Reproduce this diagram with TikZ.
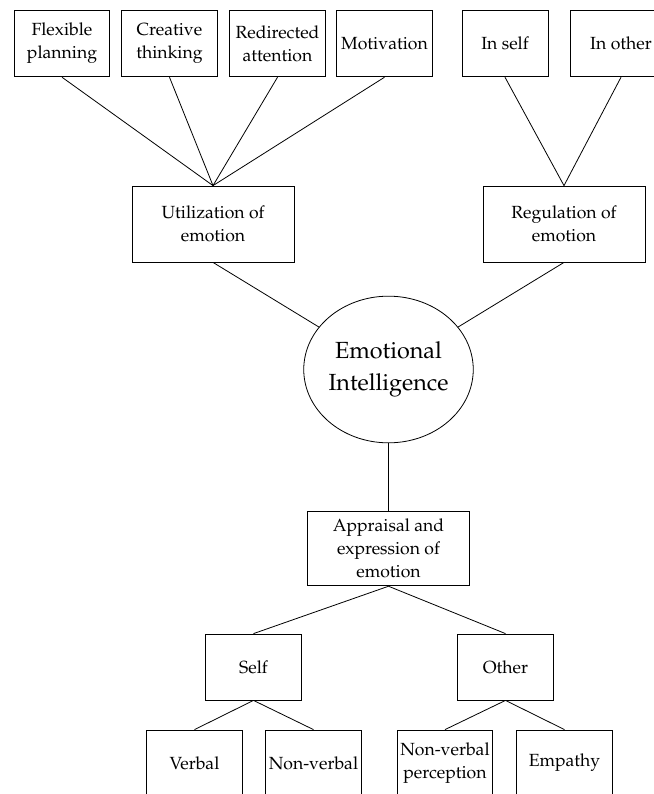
\documentclass[tikz,border=0pt]{standalone}
\usepackage[T1]{fontenc}
\usepackage{mathpazo}
\usepackage{tikz}
\usetikzlibrary{shapes.geometric}

\begin{document}
\begin{tikzpicture}[x=0.75pt, y=-0.75pt, line width=0.6pt,
    box/.style={draw, align=center, inner sep=1pt, font=\fontsize{13.2}{17.3}\selectfont,
                minimum width=71.5pt, minimum height=50pt},
    wide/.style={box, minimum width=121.5pt, minimum height=57pt},
    small/.style={box, minimum height=49.5pt}]
                % Frame
                \useasboundingbox (0,0) rectangle (654,794);
                \clip (0,0) rectangle (654,794);

                % Top row
                \node[box] (flex) at (62,43.5) {Flexible\\planning};
                \node[box] (creat) at (169.5,43.5) {Creative\\thinking};
                \node[box] (redir) at (277.5,43.5) {Redirected\\attention};
                \node[box] (motiv) at (384.5,43.5) {Motivation};
                \node[box, minimum width=64.5pt] (inself) at (505,43.5) {In self};
                \node[box, minimum width=76pt] (inother) at (621,43.5) {In other};

                % Branches
                \node[wide] (util) at (213,224) {Utilization of\\emotion};
                \node[wide] (regul) at (564,224) {Regulation of\\emotion};

                % Centre
                \node[draw, ellipse, minimum width=119pt, minimum height=110pt, inner sep=0pt,
                      align=center, font=\fontsize{17.5}{24}\selectfont] (ei) at (388.5,369.5)
                      {Emotional\\Intelligence};

                \node[wide, minimum height=56pt] (apprais) at (388.5,548.5)
                      {Appraisal and\\expression of\\emotion};

                % Lower rows
                \node[small] (self) at (253.5,667) {Self};
                \node[small] (other) at (505.5,667) {Other};
                \node[small] (verbal) at (194.5,763) {Verbal};
                \node[small] (nonverb) at (313.5,763) {Non-verbal};
                \node[small] (nvperc) at (445,763) {Non-verbal\\perception};
                \node[small] (empathy) at (564.5,763) {Empathy};

                % Connectors
                \draw (flex.south) -- (util.north);
                \draw (creat.south) -- (util.north);
                \draw (redir.south) -- (util.north);
                \draw (motiv.south) -- (util.north);
                \draw (inself.south) -- (regul.north);
                \draw (inother.south) -- (regul.north);
                \draw (util.south) -- (ei);
                \draw (regul.south) -- (ei);
                \draw (ei.south) -- (apprais.north);
                \draw (apprais.south) -- (self.north);
                \draw (apprais.south) -- (other.north);
                \draw (self.south) -- (verbal.north);
                \draw (self.south) -- (nonverb.north);
                \draw (other.south) -- (nvperc.north);
                \draw (other.south) -- (empathy.north);
            \end{tikzpicture}
\end{document}
